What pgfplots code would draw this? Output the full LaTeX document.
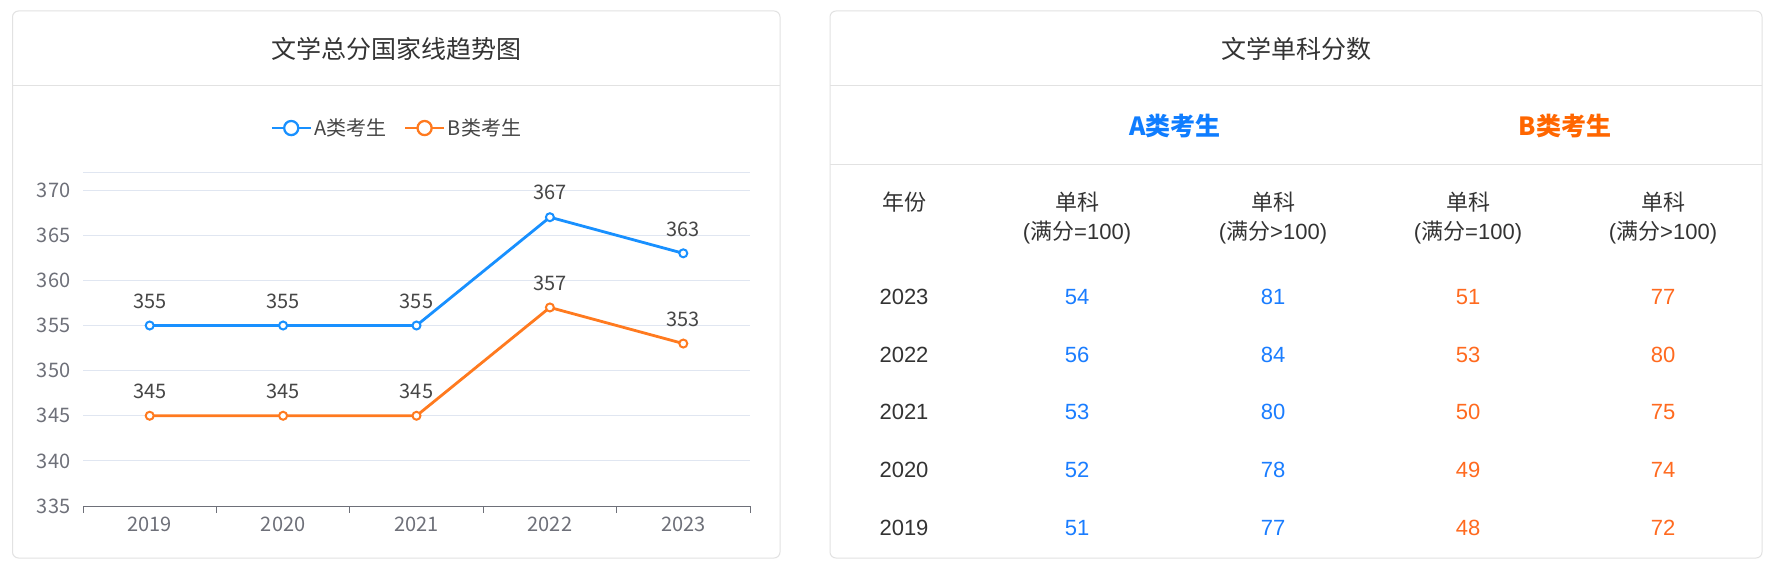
\documentclass[border=0pt]{standalone}
\usepackage{fontspec}
\setmainfont{Noto Sans CJK SC}
\newfontfamily\arial{Liberation Sans}
\usepackage{pgfplots}
\pgfplotsset{compat=1.18}
\definecolor{cblue}{HTML}{1890FF}
\definecolor{corange}{HTML}{FF7A1F}
\definecolor{tblue}{HTML}{1A7DFF}
\definecolor{torange}{HTML}{FF6A1F}
\definecolor{hblue}{HTML}{0F7DFF}
\definecolor{horange}{HTML}{FF6600}
\definecolor{axisgray}{HTML}{6E7079}
\definecolor{gridc}{HTML}{E0E6F1}
\definecolor{labelc}{HTML}{464646}
\definecolor{titlec}{HTML}{333333}
\definecolor{panelc}{HTML}{E2E2E2}

\begin{document}
\begin{tikzpicture}
\begin{scope}[x=0.75pt,y=0.75pt]
  \fill[white] (0,0) rectangle (1776,578);
  \useasboundingbox (0,0) rectangle (1776,578);
  % panels
  \draw[panelc, line width=0.75pt, rounded corners=4.5pt] (12.5,20) rectangle (780,567);
  \draw[panelc, line width=0.75pt] (12.5,492) -- (780,492);
  \node[text=titlec, font=\fontsize{18.75}{22}\selectfont] at (396,529) {文学总分国家线趋势图};

  \draw[panelc, line width=0.75pt, rounded corners=4.5pt] (830,20) rectangle (1762,567);
  \draw[panelc, line width=0.75pt] (830,492) -- (1762,492);
  \draw[panelc, line width=0.75pt] (830,413) -- (1762,413);
  \node[text=titlec, font=\fontsize{18.75}{22}\selectfont] at (1296,529) {文学单科分数};
  \node[text=hblue, font=\fontsize{18.75}{22}\selectfont\bfseries] at (1175,452) {A类考生};
  \node[text=horange, font=\fontsize{18.75}{22}\selectfont\bfseries] at (1565,452) {B类考生};

  % table header
  \begin{scope}[every node/.style={text=titlec, font=\fontsize{16.5}{20}\selectfont}]
    \node at (904,376) {年份};
    \foreach \cx in {1077,1273,1468,1663} \node at (\cx,376) {单科};
    \node at (1077,345) {{\arial(}满分{\arial=100)}};
    \node at (1273,345) {{\arial(}满分{\arial>100)}};
    \node at (1468,345) {{\arial(}满分{\arial=100)}};
    \node at (1663,345) {{\arial(}满分{\arial>100)}};
  \end{scope}

  % table rows: year, A =100, A >100, B =100, B >100
  \begin{scope}[every node/.style={font=\arial\fontsize{16.5}{20}\selectfont}]
    \foreach \yr/\a/\b/\c/\d/\ry in {2023/54/81/51/77/281, 2022/56/84/53/80/223,
        2021/53/80/50/75/166, 2020/52/78/49/74/108, 2019/51/77/48/72/50} {
      \node[text=titlec] at (904,\ry) {\yr};
      \node[text=tblue] at (1077,\ry) {\a};
      \node[text=tblue] at (1273,\ry) {\b};
      \node[text=torange] at (1468,\ry) {\c};
      \node[text=torange] at (1663,\ry) {\d};
    }
  \end{scope}
\end{scope}

\begin{axis}[
  at={(62.25pt,54pt)}, anchor=south west,
  scale only axis, width=500.25pt, height=249.75pt,
  xmin=-0.5, xmax=4.5, ymin=335, ymax=371.9,
  axis x line*=bottom, axis y line*=left,
  x axis line style={draw=axisgray, line width=0.75pt, -},
  y axis line style={draw=none},
  xtick={0,...,4}, xticklabels={2019,2020,2021,2022,2023},
  ytick={335,340,...,370},
  major tick length=0pt,
  extra x ticks={-0.5,0.5,...,4.5},
  extra x tick labels={},
  extra x tick style={grid=none, major tick length=5pt, tick align=outside,
    tick style={draw=axisgray, line width=0.75pt}},
  extra y ticks={371.9}, extra y tick labels={},
  extra y tick style={grid=major},
  ymajorgrids, grid style={draw=gridc, line width=0.75pt},
  tick label style={font=\fontsize{15}{18}\selectfont, text=axisgray},
  yticklabel style={xshift=-6pt},
  xticklabel style={yshift=-5pt},
  /pgf/number format/assume math mode=true,
  clip=false,
  legend columns=2,
  legend style={at={(0.471,1.135)}, anchor=center, draw=none, fill=none,
    font=\fontsize{15}{18}\selectfont, text=labelc, inner sep=0pt,
    /tikz/every even column/.append style={column sep=11pt}},
  legend image code/.code={
    \draw[line width=1.9pt] (0pt,0pt) -- (29pt,0pt);
    \draw[line width=1.7pt, fill=white] (14.5pt,0pt) circle (5.3pt);
  },
  nodes near coords,
  every node near coord/.append style={font=\fontsize{15}{18}\selectfont,
    text=labelc, anchor=south, inner sep=0pt, yshift=12pt},
]
  \addplot[draw=cblue, line width=2.1pt, mark=*, mark size=3pt,
    mark options={fill=white, draw=cblue, line width=1.5pt}]
    coordinates {(0,355) (1,355) (2,355) (3,367) (4,363)};
  \addlegendentry{A类考生}
  \addplot[draw=corange, line width=2.1pt, mark=*, mark size=3pt,
    mark options={fill=white, draw=corange, line width=1.5pt}]
    coordinates {(0,345) (1,345) (2,345) (3,357) (4,353)};
  \addlegendentry{B类考生}
\end{axis}
\end{tikzpicture}
\end{document}
